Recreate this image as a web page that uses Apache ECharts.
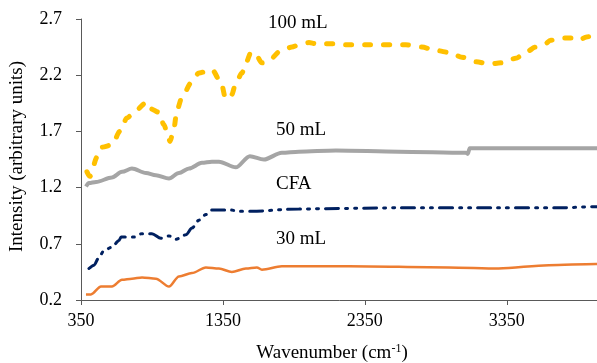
<!DOCTYPE html>
<html>
<head>
<meta charset="utf-8">
<script src="https://cdn.jsdelivr.net/npm/echarts@6/dist/echarts.min.js"></script>
<style>
html,body{margin:0;padding:0;background:#fff;}
#chart{width:597px;height:363px;}
</style>
</head>
<body>
<div id="chart"></div>
<script>
// ---- data ----
var x100 = [392, 413, 463, 498, 568, 625, 674, 737, 815, 843, 899, 934, 963, 977, 1005, 1026, 1061, 1125, 1181, 1272, 1336, 1370, 1413, 1441, 1484, 1512, 1547, 1575, 1625, 1660, 1765, 1836, 1885, 1956, 2005, 2075, 2146, 2216, 2287, 2357, 2449, 2568, 2639, 2751, 2850, 2955, 3033, 3132, 3223, 3315, 3413, 3491, 3554, 3610, 3660, 3716, 3808, 3857, 3913, 3977, 4000];
var y100 = [1.34, 1.30, 1.47, 1.56, 1.58, 1.70, 1.82, 1.89, 1.96, 1.90, 1.87, 1.76, 1.66, 1.61, 1.73, 1.89, 2.00, 2.13, 2.22, 2.25, 2.14, 1.99, 2.03, 2.13, 2.22, 2.31, 2.40, 2.40, 2.31, 2.32, 2.42, 2.45, 2.47, 2.49, 2.48, 2.48, 2.48, 2.47, 2.47, 2.47, 2.47, 2.47, 2.47, 2.45, 2.42, 2.40, 2.36, 2.32, 2.30, 2.31, 2.35, 2.41, 2.45, 2.47, 2.51, 2.53, 2.53, 2.51, 2.54, 2.56, 2.56];

var x50 = [385, 406, 456, 568, 639, 709, 808, 878, 970, 1040, 1111, 1202, 1272, 1322, 1441, 1540, 1639, 1765, 1885, 2146, 2589, 3061, 3075, 3089, 3977, 4000];
var y50 = [1.21, 1.24, 1.25, 1.29, 1.34, 1.37, 1.33, 1.31, 1.28, 1.33, 1.37, 1.42, 1.43, 1.43, 1.38, 1.48, 1.45, 1.51, 1.52, 1.53, 1.52, 1.51, 1.50, 1.55, 1.55, 1.55];

var xCFA = [406, 442, 477, 512, 568, 618, 632, 723, 780, 850, 913, 970, 1019, 1089, 1132, 1181, 1230, 1272, 1343, 1406, 1463, 1554, 1885, 2589, 3293, 3716, 3977, 4000];
var yCFA = [0.48, 0.51, 0.58, 0.64, 0.67, 0.73, 0.76, 0.76, 0.79, 0.79, 0.75, 0.77, 0.74, 0.78, 0.84, 0.91, 0.96, 1.00, 1.00, 1.00, 0.99, 0.99, 1.01, 1.02, 1.02, 1.02, 1.03, 1.03];

var x30 = [385, 420, 491, 568, 639, 709, 780, 878, 970, 1040, 1132, 1230, 1322, 1413, 1512, 1589, 1625, 1765, 2237, 2941, 3293, 3646, 3977, 4000];
var y30 = [0.25, 0.25, 0.32, 0.32, 0.38, 0.39, 0.40, 0.39, 0.32, 0.41, 0.44, 0.49, 0.48, 0.45, 0.48, 0.49, 0.47, 0.50, 0.50, 0.49, 0.48, 0.51, 0.52, 0.52];

var seriesNames = ['100 mL', '50 mL', 'CFA', '30 mL'];
var xTicks = [350, 1350, 2350, 3350];
var yTicks = [0.2, 0.7, 1.2, 1.7, 2.2, 2.7];

function zip(xs, ys){ return xs.map(function(x,i){ return [x, ys[i]]; }); }

var FONT = 'Liberation Serif';
var chart = echarts.init(document.getElementById('chart'), null, {renderer:'canvas'});
chart.setOption({
  animation: false,
  backgroundColor: '#ffffff',
  grid: {left: 81, right: -2, top: 19, bottom: 63, outerBoundsMode: 'none', containLabel: false},
  xAxis: {
    type: 'value', min: xTicks[0], max: 4000, interval: 1000,
    axisLine: {lineStyle: {color: '#595959', width: 1}},
    axisTick: {show: true, length: 5, inside: false, lineStyle: {color: '#595959'}},
    axisLabel: {showMaxLabel: false, color: '#000', fontFamily: FONT, fontSize: 18, margin: 12,
      formatter: function(v){ return String(v); }},
    splitLine: {show: false},
    name: '{a|Wavenumber (cm}{s|-1}{a|)}',
    nameLocation: 'middle', nameGap: 43,
    nameTextStyle: {
      padding: [0, 16, 0, 0],
      rich: {
        a: {fontFamily: FONT, fontSize: 19, color: '#000'},
        s: {fontFamily: FONT, fontSize: 12, color: '#000', padding: [0,0,8,0]}
      }
    }
  },
  yAxis: {
    type: 'value', min: yTicks[0], max: yTicks[yTicks.length-1], interval: 0.5,
    axisLine: {show: true, lineStyle: {color: '#595959', width: 1}},
    axisTick: {show: true, length: 5, lineStyle: {color: '#595959'}},
    axisLabel: {color: '#000', fontFamily: FONT, fontSize: 18, margin: 19,
      formatter: function(v){ return v.toFixed(1); }},
    splitLine: {show: false},
    name: 'Intensity (arbitrary units)',
    nameLocation: 'middle', nameGap: 54,
    nameTextStyle: {fontFamily: FONT, fontSize: 19, color: '#000', padding: [0, 0, 0, 6]}
  },
  series: [
    {name: seriesNames[0], type: 'line', data: zip(x100, y100), showSymbol: false, smooth: 0.3, smoothMonotone: 'x',
     lineStyle: {color: '#FFC000', width: 5, type: [6, 13], cap: 'round', join: 'round'}, z: 4},
    {name: seriesNames[1], type: 'line', data: zip(x50, y50), showSymbol: false, smooth: 0.3, smoothMonotone: 'x',
     lineStyle: {color: '#A5A5A5', width: 4, join: 'round'}, z: 3},
    {name: seriesNames[2], type: 'line', data: zip(xCFA, yCFA), showSymbol: false, smooth: 0.3, smoothMonotone: 'x',
     lineStyle: {color: '#002060', width: 3, type: [13, 7, 2, 7, 2, 7], cap: 'round'}, z: 2},
    {name: seriesNames[3], type: 'line', data: zip(x30, y30), showSymbol: false, smooth: 0.3, smoothMonotone: 'x',
     lineStyle: {color: '#ED7D31', width: 2.5}, z: 1}
  ],
  graphic: [
    {type: 'text', left: 268, top: 14, style: {text: seriesNames[0], font: '19px "Liberation Serif"', fill: '#000'}},
    {type: 'text', left: 276, top: 121, style: {text: seriesNames[1], font: '19px "Liberation Serif"', fill: '#000'}},
    {type: 'text', left: 276, top: 175, style: {text: seriesNames[2], font: '19px "Liberation Serif"', fill: '#000'}},
    {type: 'text', left: 276, top: 230, style: {text: seriesNames[3], font: '19px "Liberation Serif"', fill: '#000'}}
  ]
});
</script>
</body>
</html>
